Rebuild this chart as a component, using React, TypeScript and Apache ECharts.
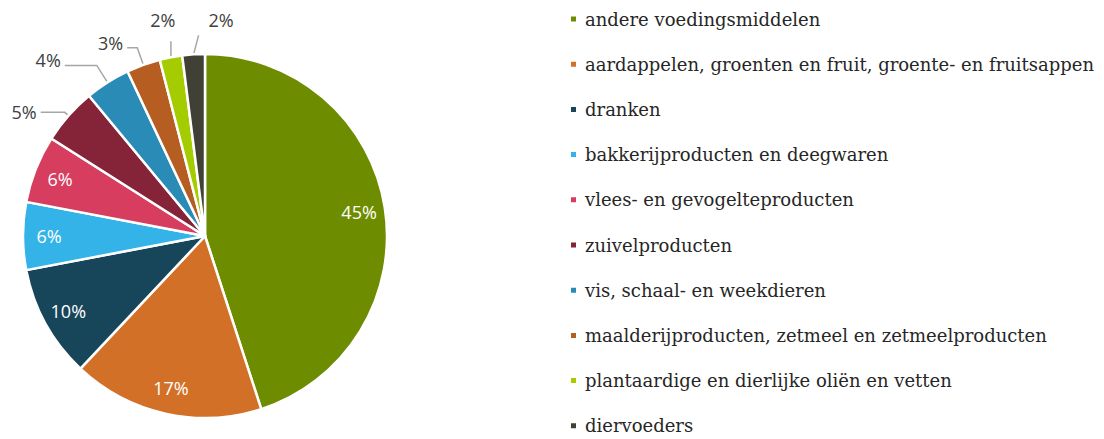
import React, { useEffect, useRef } from "react";
import * as echarts from "echarts";

const categories = [
  "andere voedingsmiddelen",
  "aardappelen, groenten en fruit, groente- en fruitsappen",
  "dranken",
  "bakkerijproducten en deegwaren",
  "vlees- en gevogelteproducten",
  "zuivelproducten",
  "vis, schaal- en weekdieren",
  "maalderijproducten, zetmeel en zetmeelproducten",
  "plantaardige en dierlijke oliën en vetten",
  "diervoeders",
];
const values = [45, 17, 10, 6, 6, 5, 4, 3, 2, 2];
const colors = [
  "#6E8C00",
  "#D37028",
  "#17465A",
  "#34B3E8",
  "#D63D5E",
  "#852339",
  "#2A8BB7",
  "#B65E22",
  "#A5CC00",
  "#404035",
];
const insideThreshold = 6;
// leader line lengths for the outside labels (radial, horizontal)
const leaderLengths: Record<number, [number, number]> = {
  5: [5, 24],
  6: [20, 32],
  7: [18, 10],
  8: [10, 0],
  9: [10, 0],
};

export default function App() {
  const ref = useRef<HTMLDivElement>(null);
  useEffect(() => {
    if (!ref.current) return;
    const chart = echarts.init(ref.current, null, { renderer: "svg" });
    const center = [205, 236];
    const mainData = categories.map((name, i) => {
      const small = values[i] < insideThreshold;
      const ll = leaderLengths[i] || [10, 10];
      return {
        name,
        value: values[i],
        itemStyle: { color: colors[i] },
        label: { show: small },
        labelLine: { show: small, length: ll[0], length2: ll[1] },
      };
    });
    const overlayData = categories.map((name, i) => ({
      name,
      value: values[i],
      label: { show: values[i] >= insideThreshold },
    }));
    chart.setOption({
      animation: false,
      color: colors,
      legend: {
        orient: "vertical",
        left: 569,
        top: 9,
        height: 430,
        padding: 0,
        icon: "rect",
        itemWidth: 7,
        itemHeight: 7,
        itemGap: 25.2,
        selectedMode: false,
        textStyle: {
          fontFamily: "DejaVu Serif",
          fontSize: 18,
          color: "#262626",
          lineHeight: 20,
          padding: [0, 0, 0, 3],
        },
        data: categories,
      },
      series: [
        {
          type: "pie",
          center,
          radius: 182,
          startAngle: 90,
          clockwise: true,
          avoidLabelOverlap: false,
          itemStyle: { borderColor: "#fff", borderWidth: 2.5 },
          label: {
            position: "outside",
            formatter: "{c}%",
            fontFamily: "Open Sans",
            fontSize: 18,
            color: "#404040",
          },
          labelLine: {
            lineStyle: { color: "#A6A6A6", width: 1.5 },
          },
          labelLayout: (p: any) => {
            const pts = p.labelLinePoints;
            if (!pts || !pts[0]) return {};
            const p0 = pts[0];
            const i = p.dataIndex;
            if (i === 8) {
              const top = [p0[0], p0[1] - 16];
              return {
                x: top[0] - 8,
                y: top[1] - 12,
                align: "center",
                verticalAlign: "bottom",
                labelLinePoints: [p0, top, top],
              };
            }
            if (i === 9) {
              const top = [p0[0] + 5, p0[1] - 19];
              return {
                x: top[0] + 10,
                y: top[1] - 6,
                align: "left",
                verticalAlign: "bottom",
                labelLinePoints: [p0, top, top],
              };
            }
            const p2 = pts[2] || pts[1];
            return {
              x: p2[0] - 4,
              y: p2[1] - (i === 5 ? 0 : 5),
              align: "right",
              verticalAlign: "middle",
              labelLinePoints: pts,
            };
          },
          emphasis: { disabled: true },
          data: mainData,
        },
        {
          type: "pie",
          center,
          radius: [124, 182],
          startAngle: 90,
          clockwise: true,
          silent: true,
          itemStyle: { color: "transparent", borderWidth: 0 },
          label: {
            position: "inside",
            formatter: "{c}%",
            fontFamily: "Open Sans",
            fontSize: 18,
            color: "#fff",
          },
          labelLine: { show: false },
          emphasis: { disabled: true },
          data: overlayData,
        },
      ],
    });
    return () => chart.dispose();
  }, []);
  return (
    <div
      ref={ref}
      style={{ position: "absolute", left: 0, top: 0, width: 1104, height: 439 }}
    />
  );
}
